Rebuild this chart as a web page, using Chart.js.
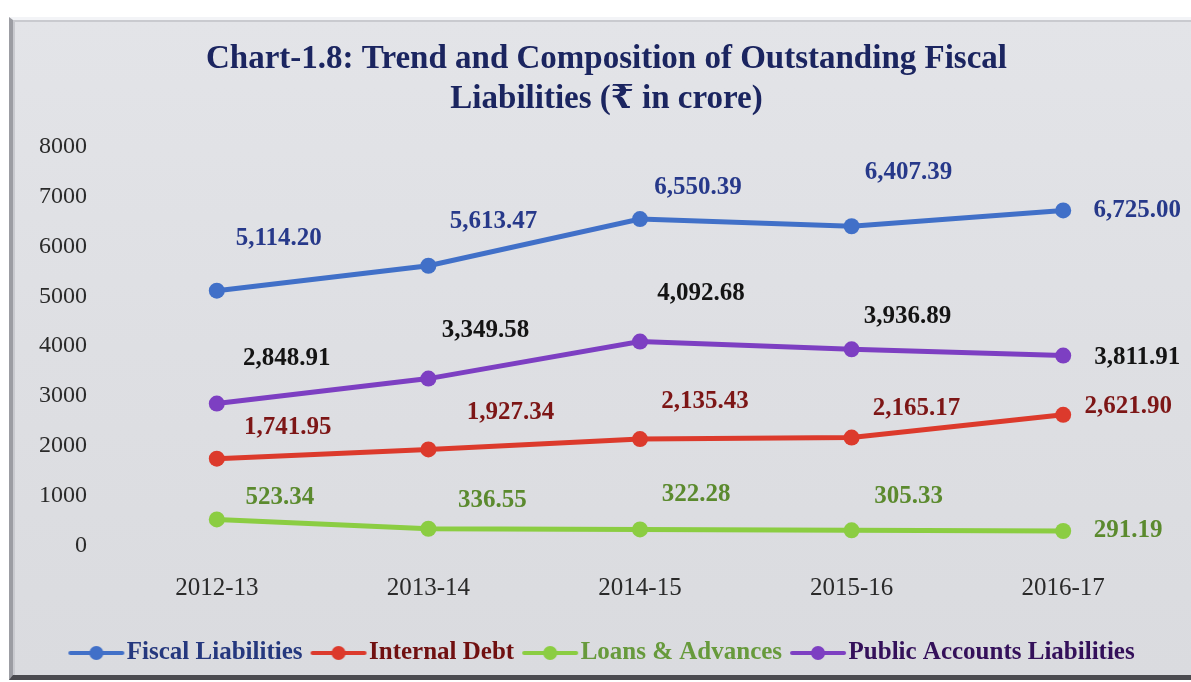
<!DOCTYPE html>
<html>
<head>
<meta charset="utf-8">
<script src="https://cdn.jsdelivr.net/npm/chart.js@4.4.1/dist/chart.umd.min.js"></script>
<style>
  html, body { margin: 0; padding: 0; background: #ffffff; width: 1191px; height: 682px; overflow: hidden; }
  #panel {
    position: absolute; left: 9px; top: 17px; width: 1190px; height: 655px;
    background: linear-gradient(180deg, #e3e4e8 0%, #dedfe3 50%, #dadbdf 100%);
    border-left: 4px solid #9c9da3;
    border-top: 3px solid #f3f4f7;
    border-bottom: 5px solid #4b4b50;
    box-shadow: inset 2px 2px 0 #c9cacf;
  }
  #wrap { position: absolute; left: 0; top: 0; width: 1191px; height: 682px; }
</style>
</head>
<body>
<div id="panel"></div>
<div id="wrap"><canvas id="chart" width="1191" height="682"></canvas></div>
<script>
// Outstanding fiscal liabilities of the State, ₹ in crore
const categories = ['2012-13', '2013-14', '2014-15', '2015-16', '2016-17'];
const fiscalLiabilities = [5114.20, 5613.47, 6550.39, 6407.39, 6725.00];
const internalDebt = [1741.95, 1927.34, 2135.43, 2165.17, 2621.90];
const loansAndAdvances = [523.34, 336.55, 322.28, 305.33, 291.19];
const publicAccountsLiabilities = [2848.91, 3349.58, 4092.68, 3936.89, 3811.91];
const yTickValues = [0, 1000, 2000, 3000, 4000, 5000, 6000, 7000, 8000];

// Where each value label sits relative to its point (px)
const fiscalLabelShift = [[62, -52], [65, -44], [58, -32], [57, -54], [74, 0]];
const debtLabelShift = [[71, -31], [82, -37], [65, -38], [65, -29], [65, -8]];
const loansLabelShift = [[63, -22], [64, -28], [56, -35], [57, -34], [65, 0]];
const publicLabelShift = [[70, -45], [57, -48], [61, -48], [56, -33], [74, 2]];

const SERIF = '"Liberation Serif", "Times New Roman", "DejaVu Serif", "Noto Sans", serif';

function formatValue(v) {
  return v.toLocaleString('en-US', { minimumFractionDigits: 2, maximumFractionDigits: 2 });
}

// Legend marker: a short line with a dot in the middle
function legendMarker(color) {
  const c = document.createElement('canvas');
  c.width = 58; c.height = 18;
  const g = c.getContext('2d');
  g.strokeStyle = color; g.lineWidth = 4; g.lineCap = 'round';
  g.beginPath(); g.moveTo(3, 9); g.lineTo(55, 9); g.stroke();
  g.fillStyle = color;
  g.beginPath(); g.arc(29, 9, 7, 0, Math.PI * 2); g.fill();
  return c;
}

const seriesStyle = [
  { label: 'Fiscal Liabilities', data: fiscalLiabilities, line: '#4170c8', text: '#27398a', shift: fiscalLabelShift, legendText: '#25387e' },
  { label: 'Internal Debt', data: internalDebt, line: '#dc3a2c', text: '#7d1616', shift: debtLabelShift, legendText: '#701010' },
  { label: 'Loans & Advances', data: loansAndAdvances, line: '#8bcd42', text: '#5b8a2e', shift: loansLabelShift, legendText: '#679a3c' },
  { label: 'Public Accounts Liabilities', data: publicAccountsLiabilities, line: '#7d3fc2', text: '#141414', shift: publicLabelShift, legendText: '#34105a' }
];

const datasets = seriesStyle.map(s => ({
  label: s.label,
  data: s.data,
  borderColor: s.line,
  backgroundColor: s.line,
  pointBackgroundColor: s.line,
  pointBorderColor: s.line,
  borderWidth: 5,
  pointRadius: 8,
  pointBorderWidth: 0,
  pointHoverRadius: 8,
  tension: 0,
  fill: false,
  clip: false
}));

const valueLabels = {
  id: 'valueLabels',
  afterDatasetsDraw(chart) {
    const ctx = chart.ctx;
    ctx.save();
    ctx.font = 'bold 25px ' + SERIF;
    ctx.textAlign = 'center';
    ctx.textBaseline = 'middle';
    chart.data.datasets.forEach((ds, i) => {
      const meta = chart.getDatasetMeta(i);
      const style = seriesStyle[i];
      meta.data.forEach((pt, j) => {
        const [dx, dy] = style.shift[j];
        ctx.fillStyle = style.text;
        ctx.fillText(formatValue(ds.data[j]), pt.x + dx, pt.y + dy);
      });
    });
    ctx.restore();
  }
};

new Chart(document.getElementById('chart'), {
  type: 'line',
  data: { labels: categories, datasets },
  plugins: [valueLabels],
  options: {
    responsive: false,
    devicePixelRatio: 1,
    animation: false,
    events: [],
    layout: { padding: { left: 22, right: 0, top: 0, bottom: 6.5 } },
    scales: {
      x: {
        type: 'category',
        offset: true,
        afterFit(scale) { scale.height = 77; },
        grid: { display: false, drawTicks: false },
        border: { display: false },
        ticks: { color: '#2a2a2a', padding: 28, font: { family: SERIF, size: 25 } }
      },
      y: {
        min: 0,
        max: 8000,
        afterFit(scale) { scale.width = 89; },
        afterBuildTicks(scale) { scale.ticks = yTickValues.map(v => ({ value: v })); },
        grid: { display: false, drawTicks: false },
        border: { display: false },
        ticks: {
          color: '#2a2a2a', padding: 24, font: { family: SERIF, size: 24 },
          callback: v => String(v)
        }
      },
      // empty margin strip on the right of the plot
      yRight: {
        position: 'right',
        min: 0,
        max: 8000,
        afterFit(scale) { scale.width = 22; },
        grid: { display: false, drawTicks: false },
        border: { display: false },
        ticks: { display: false }
      }
    },
    plugins: {
      title: {
        display: true,
        text: ['Chart-1.8: Trend and Composition of Outstanding Fiscal', 'Liabilities (₹ in crore)'],
        color: '#1b2560',
        font: { family: SERIF, size: 33, weight: 'bold', lineHeight: 1.21 },
        padding: { top: 40, bottom: 27 }
      },
      legend: {
        display: true,
        position: 'bottom',
        labels: {
          usePointStyle: true,
          pointStyleWidth: 36,
          padding: 18,
          font: { family: SERIF, size: 25, weight: 'bold' },
          generateLabels(chart) {
            const items = Chart.defaults.plugins.legend.labels.generateLabels(chart);
            return items.map((it, i) => Object.assign(it, {
              pointStyle: legendMarker(seriesStyle[i].line),
              fontColor: seriesStyle[i].legendText
            }));
          }
        }
      },
      tooltip: { enabled: false }
    }
  }
});
</script>
</body>
</html>
